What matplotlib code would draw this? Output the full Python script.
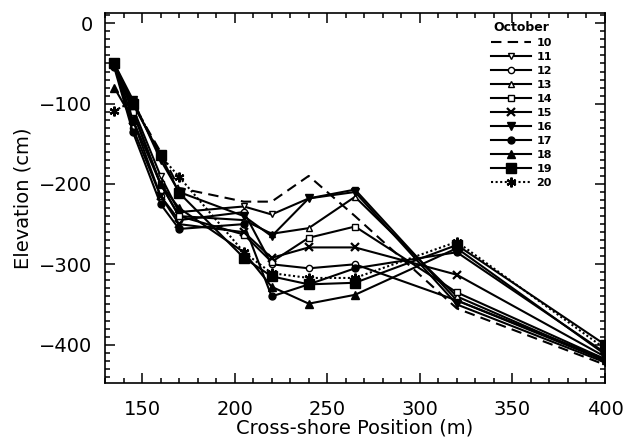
import numpy as np
import matplotlib
matplotlib.use("Agg")
import matplotlib.pyplot as plt
from matplotlib.ticker import MultipleLocator

# cross-shore survey positions (m)
pos = [135, 145, 160, 170, 205, 220, 240, 265, 320, 400]

# elevation (cm) for each October survey day
days = ["10", "11", "12", "13", "14", "15", "16", "17", "18", "19", "20"]
oct10 = [-55, -100, -160, -205, -222, -222, -190, -240, -355, -425]
oct11 = [-50, -105, -190, -235, -228, -238, -218, -207, -345, -418]
oct12 = [-50, -130, -215, -245, -235, -300, -305, -300, -345, -420]
oct13 = [-50, -110, -200, -240, -245, -262, -255, -216, -340, -420]
oct14 = [-50, -110, -200, -240, -263, -297, -267, -253, -335, -418]
oct15 = [-50, -120, -215, -250, -260, -292, -279, -279, -313, -415]
oct16 = [-50, -95, -170, -210, -240, -265, -218, -210, -350, -422]
oct17 = [-55, -135, -225, -256, -250, -340, -325, -305, -285, -410]
oct18 = [-80, -120, -200, -230, -285, -328, -349, -338, -280, -412]
oct19 = [-50, -100, -164, -211, -292, -315, -325, -323, -276, -400]
oct20 = [-109, -97, -165, -191, -285, -311, -317, -317, -272, -405]
series = [oct10, oct11, oct12, oct13, oct14, oct15, oct16, oct17, oct18, oct19, oct20]

styles = [
    dict(ls=(0, (5, 3)), marker=None),
    dict(ls="-", marker="v", mfc="white", ms=5),
    dict(ls="-", marker="o", mfc="white", ms=4.5),
    dict(ls="-", marker="^", mfc="white", ms=5),
    dict(ls="-", marker="s", mfc="white", ms=5),
    dict(ls="-", marker="x", ms=6, mew=1.6),
    dict(ls="-", marker="v", ms=6),
    dict(ls="-", marker="o", ms=5),
    dict(ls="-", marker="^", ms=6),
    dict(ls="-", marker="s", ms=7),
    dict(ls=(0, (1, 1.2)), marker=(6, 2, 0), ms=7, mew=1.6),
]

plt.rcParams["font.family"] = "DejaVu Sans"
fig = plt.figure(figsize=(6.25, 4.44), dpi=100)
ax = fig.add_axes([0.168, 0.137, 0.8, 0.834])

for d, vals, st in zip(days, series, styles):
    ax.plot(pos, vals, color="black", lw=1.5, label=d, mec="black", **st)

ax.set_xlim(130, 400)
ax.set_ylim(-448, 13)
ax.xaxis.set_major_locator(MultipleLocator(50))
ax.xaxis.set_minor_locator(MultipleLocator(10))
ax.yaxis.set_major_locator(MultipleLocator(100))
ax.yaxis.set_minor_locator(MultipleLocator(10))
ax.tick_params(which="both", direction="in", top=True, right=True, width=1.1)
ax.tick_params(which="major", length=7, labelsize=14)
ax.tick_params(axis="x", which="major", pad=12)
ax.tick_params(axis="y", which="major", pad=9)
ax.tick_params(which="minor", length=3.5)
for s in ax.spines.values():
    s.set_linewidth(1.2)

ax.set_xlabel("Cross-shore Position (m)", fontsize=14, labelpad=0)
ax.set_ylabel("Elevation (cm)", fontsize=14, labelpad=5)

leg = ax.legend(title="October", loc="upper right", frameon=False,
                handlelength=3.6, labelspacing=0.36, handletextpad=0.5,
                borderaxespad=0.3, prop=dict(size=8, weight="bold"),
                title_fontproperties=dict(size=9, weight="bold"),
                bbox_to_anchor=(0.91, 1.0))

fig.savefig("out.png", dpi=100)
